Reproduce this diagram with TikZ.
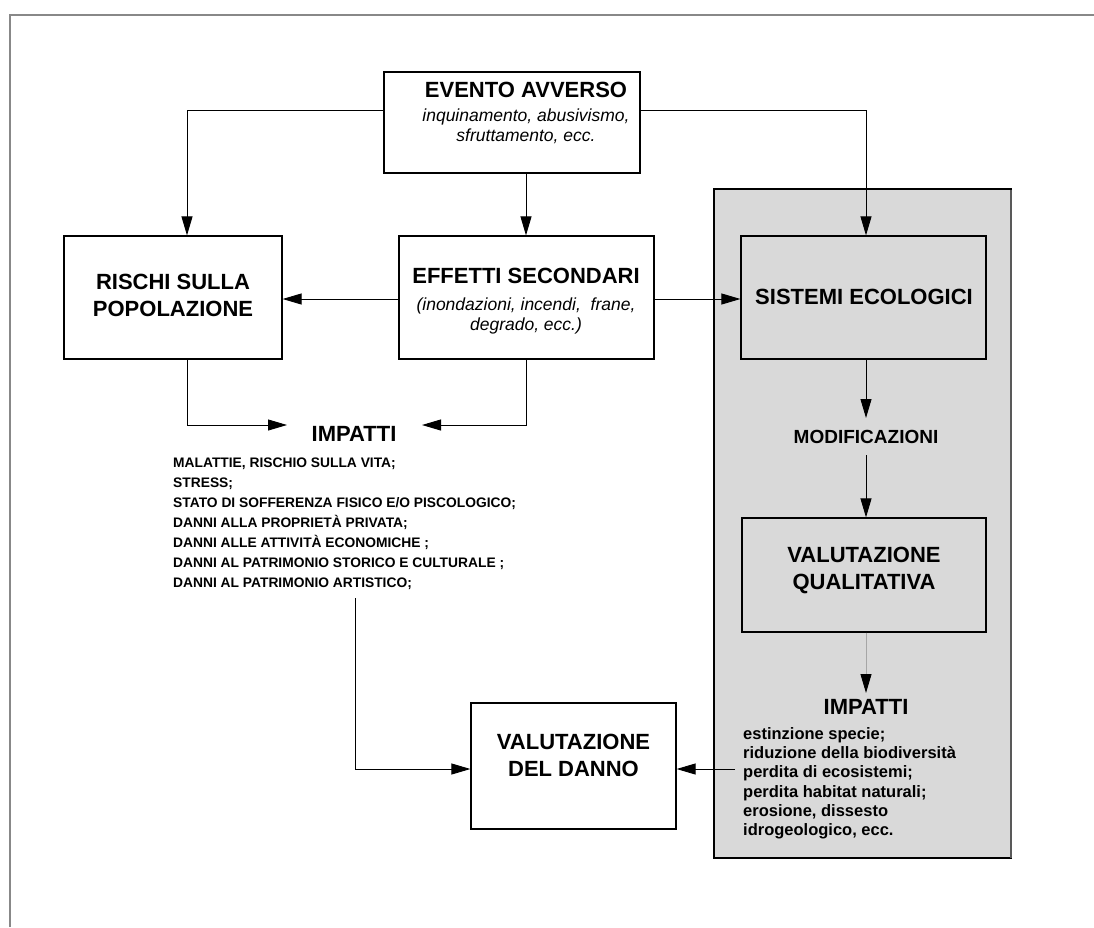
\documentclass[tikz,border=0pt]{standalone}
\usepackage{fontspec}
\setmainfont{Liberation Sans}
\usetikzlibrary{arrows.meta}
\definecolor{panelgray}{HTML}{D9D9D9}
\definecolor{framegray}{HTML}{888888}
\tikzset{
  boxnode/.style={draw=black, line width=1.2pt, inner sep=0pt, fill=white},
  graybox/.style={draw=black, line width=1.2pt, inner sep=0pt, fill=panelgray},
  ttl/.style={font=\bfseries\fontsize{22}{27}\selectfont, align=center, inner sep=0pt},
  itl/.style={font=\itshape\fontsize{17.5}{20}\selectfont, align=center, inner sep=0pt},
  lstL/.style={font=\bfseries\fontsize{13.8}{20}\selectfont, anchor=base west, inner sep=0pt},
  lstR/.style={font=\bfseries\fontsize{16.5}{19}\selectfont, anchor=base west, inner sep=0pt},
  arr/.style={draw=black, line width=0.9pt, -{Triangle[length=19pt,width=11pt]}},
  arrg/.style={draw=black!35, line width=0.9pt, -{Triangle[length=19pt,width=11pt,color=black]}},
}
\begin{document}
\begin{tikzpicture}[x=1pt,y=-1pt]
\path[use as bounding box, fill=white] (0,0) rectangle (1094,927);
% outer frame (top and left edges only)
\draw[framegray, line width=2pt] (10,927) -- (10,15) -- (1094,15);

% gray panel
\node[graybox, line width=1.3pt, minimum width=297pt, minimum height=669pt] (panel) at (862.5,523.5) {};
\draw[black!65, line width=2pt] (1011,190) -- (1011,858);

% boxes
\node[boxnode, minimum width=256pt, minimum height=101pt] (evento) at (512,122.5) {};
\node[boxnode, minimum width=218pt, minimum height=123pt] (rischi) at (173,297.5) {};
\node[boxnode, minimum width=255pt, minimum height=123pt] (effetti) at (526.5,297.5) {};
\node[graybox, minimum width=245pt, minimum height=123pt] (sistemi) at (863.5,297.5) {};
\node[graybox, minimum width=244pt, minimum height=114pt] (qualit) at (864,575) {};
\node[boxnode, minimum width=205pt, minimum height=126pt] (danno) at (573.5,766) {};

% texts
\node[ttl] (eventoT) at (526,90) {EVENTO AVVERSO};
\node[itl] (eventoI) at (526,126) {inquinamento, abusivismo,\\sfruttamento, ecc.};
\node[ttl] (rischiT) at (173,295.5) {RISCHI SULLA\\POPOLAZIONE};
\node[ttl] (effettiT) at (526,276) {EFFETTI SECONDARI};
\node[itl] (effettiI) at (526,315.5) {(inondazioni, incendi,\ \ frane,\\degrado, ecc.)};
\node[ttl] (sistemiT) at (864,297) {SISTEMI ECOLOGICI};
\node[ttl, font=\bfseries\fontsize{19}{23}\selectfont] (modif) at (866,437) {MODIFICAZIONI};
\node[ttl] (qualitT) at (864,570.5) {VALUTAZIONE\\QUALITATIVA};
\node[ttl] (dannoT) at (573.5,755) {VALUTAZIONE\\DEL DANNO};
\node[ttl] (impL) at (354,433.5) {IMPATTI};
\node[ttl] (impR) at (866,707) {IMPATTI};

% left list
\node[lstL] (l1) at (173,467) {MALATTIE, RISCHIO SULLA VITA;};
\node[lstL] (l2) at (173,487) {STRESS;};
\node[lstL] (l3) at (173,507) {STATO DI SOFFERENZA FISICO E/O PISCOLOGICO;};
\node[lstL] (l4) at (173,527) {DANNI ALLA PROPRIETÀ PRIVATA;};
\node[lstL] (l5) at (173,547) {DANNI ALLE ATTIVITÀ ECONOMICHE ;};
\node[lstL] (l6) at (173,567) {DANNI AL PATRIMONIO STORICO E CULTURALE ;};
\node[lstL] (l7) at (173,587) {DANNI AL PATRIMONIO ARTISTICO;};

% right list
\node[lstR] (r1) at (743,739) {estinzione specie;};
\node[lstR] (r2) at (743,758) {riduzione della biodiversità};
\node[lstR] (r3) at (743,777) {perdita di ecosistemi;};
\node[lstR] (r4) at (743,797) {perdita habitat naturali;};
\node[lstR] (r5) at (743,816) {erosione, dissesto};
\node[lstR] (r6) at (743,835) {idrogeologico, ecc.};

% helper coordinates
\coordinate (y110) at (0,110);
\coordinate (y299) at (0,299);
\coordinate (y769) at (0,769);
\coordinate (xr) at (187,0);
\coordinate (xc) at (526,0);
\coordinate (xs) at (866,0);
\coordinate (tipL) at (287,425);
\coordinate (tipR) at (422,425);
\coordinate (tipM) at (866,418);
\coordinate (startM) at (866,455);
\coordinate (tipQ) at (866,693);
\coordinate (startL) at (355,598);
\coordinate (startR) at (735,769);

% connectors
\draw[arr] (evento.west |- y110) -| (xr |- rischi.north);
\draw[arr] (evento.east |- y110) -| (xs |- sistemi.north);
\draw[arr] (xc |- evento.south) -- (xc |- effetti.north);
\draw[arr] (effetti.west |- y299) -- (rischi.east |- y299);
\draw[arr] (effetti.east |- y299) -- (sistemi.west |- y299);
\draw[arr] (xr |- rischi.south) |- (tipL);
\draw[arr] (xc |- effetti.south) |- (tipR);
\draw[arr] (xs |- sistemi.south) -- (tipM);
\draw[arr] (startM) -- (xs |- qualit.north);
\draw[arrg] (xs |- qualit.south) -- (tipQ);
\draw[arr] (startL) |- (danno.west |- y769);
\draw[arr] (startR) -- (danno.east |- y769);
\end{tikzpicture}
\end{document}
